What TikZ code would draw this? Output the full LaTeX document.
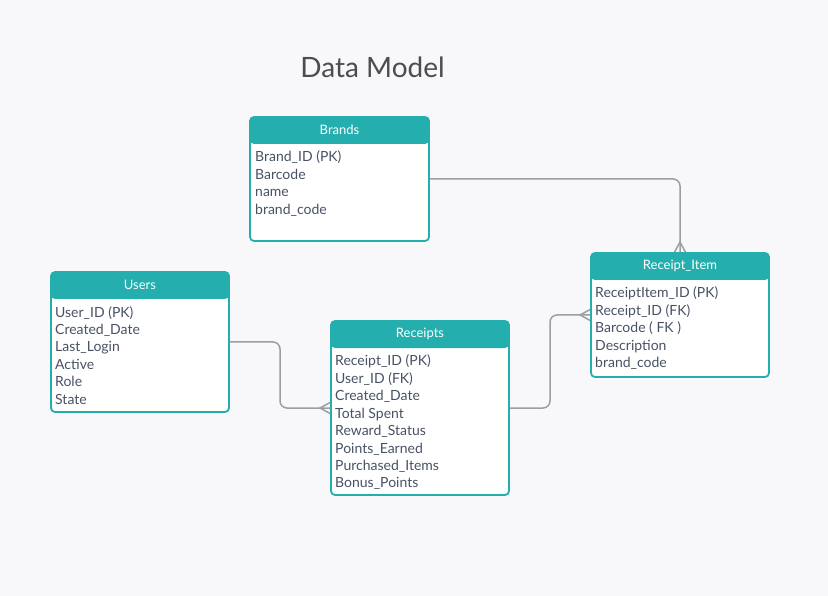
\documentclass[tikz,border=0pt]{standalone}
\usepackage{fontspec}
\setmainfont{Lato}
\usetikzlibrary{calc}
\definecolor{bgc}{RGB}{248,248,251}
\definecolor{tealc}{RGB}{36,175,174}
\definecolor{txtc}{RGB}{72,82,100}
\definecolor{linec}{RGB}{158,158,160}
\definecolor{titlec}{RGB}{77,77,77}
\tikzset{
  tbl/.style={draw=tealc, line width=1.8pt, fill=white, rounded corners=4pt, inner sep=0pt,
    path picture={\fill[tealc] (path picture bounding box.north west) rectangle ([yshift=-27pt]path picture bounding box.north east);}},
  hdr/.style={text=white, font=\fontsize{13}{15}\selectfont, inner sep=0pt},
  field/.style={text=txtc, font=\fontsize{14}{16}\selectfont, inner sep=0pt, anchor=base west},
  conn/.style={draw=linec, line width=1.5pt, rounded corners=7pt},
  crow/.style={draw=linec, line width=1.5pt},
}
\newcommand\erfields[4]{%
  \foreach \t [count=\i] in {#4} {\node[field] (#1-\i) at (#2, #3+17.4*\i-17.4) {\t};}}
\begin{document}
\begin{tikzpicture}[x=1pt, y=-1pt]
\fill[bgc] (0,0) rectangle (828,596);
\useasboundingbox (0,0) rectangle (828,596);

\node[text=titlec, font=\fontsize{28}{32}\selectfont, inner sep=0pt] (title) at (372.5,67) {Data Model};

% tables
\node[tbl, minimum width=179pt, minimum height=124pt] (brands) at (339.5,179) {};
\node[hdr] (brandsh) at (339.5,130) {Brands};
\erfields{brands}{255}{162}{Brand\_ID (PK),Barcode,name,brand\_code}

\node[tbl, minimum width=178pt, minimum height=140pt] (users) at (140,342) {};
\node[hdr] (usersh) at (140,285) {Users};
\erfields{users}{55}{317}{User\_ID (PK),Created\_Date,Last\_Login,Active,Role,State}

\node[tbl, minimum width=178pt, minimum height=174pt] (receipts) at (420,408) {};
\node[hdr] (receiptsh) at (420,334) {Receipts};
\erfields{receipts}{335}{366}{Receipt\_ID (PK),User\_ID (FK),Created\_Date,Total Spent,Reward\_Status,Points\_Earned,Purchased\_Items,Bonus\_Points}

\node[tbl, minimum width=178pt, minimum height=124pt] (item) at (680,315) {};
\node[hdr] (itemh) at (680,266) {Receipt\_Item};
\erfields{item}{595}{298}{ReceiptItem\_ID (PK),Receipt\_ID (FK),Barcode ( FK ),Description,brand\_code}

% connectors
\draw[conn] (brands.east) -| (item.north);
\draw[conn] (users.east) -| ($(users.east)!0.5!(receipts.west)$) |- (receipts.west);
\draw[conn] (receipts.east) -| ($(receipts.east)!0.5!(item.west)$) |- (item.west);

% crow's feet
\draw[crow] ($(item.north)+(-5.5,0)$) -- ($(item.north)+(0,-10)$) -- ($(item.north)+(5.5,0)$);
\draw[crow] ($(receipts.west)+(0,-5.5)$) -- ($(receipts.west)+(-10,0)$) -- ($(receipts.west)+(0,5.5)$);
\draw[crow] ($(item.west)+(0,-5.5)$) -- ($(item.west)+(-10,0)$) -- ($(item.west)+(0,5.5)$);
\end{tikzpicture}
\end{document}
